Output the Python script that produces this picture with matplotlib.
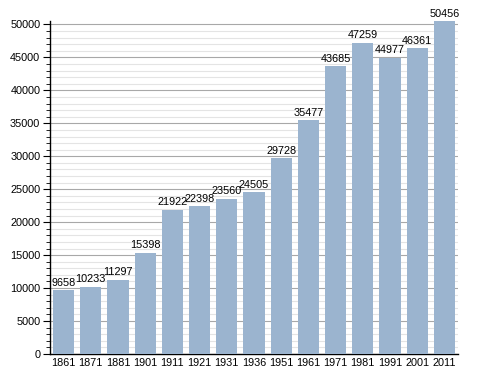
import matplotlib
matplotlib.use("Agg")
import matplotlib.pyplot as plt
from matplotlib.ticker import MultipleLocator

years = ["1861", "1871", "1881", "1901", "1911", "1921", "1931", "1936",
         "1951", "1961", "1971", "1981", "1991", "2001", "2011"]
population = [9658, 10233, 11297, 15398, 21922, 22398, 23560, 24505,
              29728, 35477, 43685, 47259, 44977, 46361, 50456]

plt.rcParams['font.family'] = ['Liberation Sans', 'DejaVu Sans']

fig = plt.figure(figsize=(4.88, 3.73), dpi=100)
ax = fig.add_axes([0.1025, 0.051, 0.836, 0.894])

x = range(len(years))
ax.bar(x, population, width=0.78, color="#9bb4cf", zorder=3)
for xi, v in zip(x, population):
    ax.text(xi, v + 350, str(v), ha="center", va="bottom", fontsize=7.8, color="black", zorder=4)

ax.set_xlim(-0.5, len(years) - 0.5)
ax.set_ylim(0, 50600)
ax.yaxis.set_major_locator(MultipleLocator(5000))
ax.yaxis.set_minor_locator(MultipleLocator(1000))
ax.set_xticks(list(x))
ax.set_xticklabels(years, fontsize=7.8)
ax.tick_params(axis="x", length=0, pad=3)
ax.tick_params(axis="y", which="major", length=5, labelsize=7.8, pad=2)
ax.tick_params(axis="y", which="minor", length=3)
ax.grid(axis="y", which="major", color="#a8a8a8", linewidth=0.8, zorder=0)
ax.grid(axis="y", which="minor", color="#e4e4e4", linewidth=0.8, zorder=0)
for s in ["top", "right"]:
    ax.spines[s].set_visible(False)
ax.spines["left"].set_linewidth(1.0)
ax.spines["bottom"].set_linewidth(1.0)

fig.savefig("out.png", dpi=100)
